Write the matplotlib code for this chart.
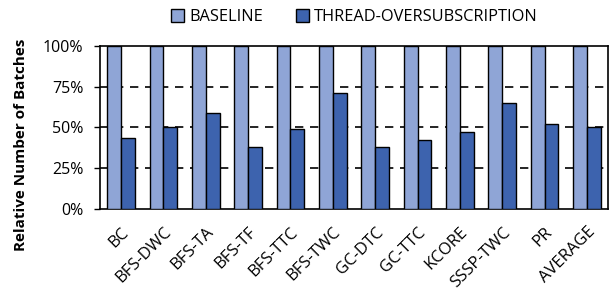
import numpy as np
import matplotlib.pyplot as plt
from matplotlib.ticker import PercentFormatter

plt.rcParams['font.family'] = ['Open Sans', 'DejaVu Sans']

categories = ["BC", "BFS-DWC", "BFS-TA", "BFS-TF", "BFS-TTC", "BFS-TWC",
              "GC-DTC", "GC-TTC", "KCORE", "SSSP-TWC", "PR", "AVERAGE"]
baseline = [100, 100, 100, 100, 100, 100, 100, 100, 100, 100, 100, 100]
oversub = [43.5, 50, 59, 38, 49, 71, 38, 42.5, 47.5, 65, 52, 50]

fig = plt.figure(figsize=(6.13, 2.89), dpi=100)
ax = fig.add_axes([0.163, 0.277, 0.829, 0.564])

x = np.arange(len(categories))
w = 0.325
ax.bar(x - w / 2, baseline, w, color='#8FA5D6', edgecolor='black', linewidth=1,
       label='BASELINE', zorder=3)
ax.bar(x + w / 2, oversub, w, color='#3D63AE', edgecolor='black', linewidth=1,
       label='THREAD-OVERSUBSCRIPTION', zorder=3)

ax.set_xlim(-0.5, len(categories) - 0.5)
ax.set_ylim(0, 100)
ax.set_yticks([0, 25, 50, 75, 100])
ax.yaxis.set_major_formatter(PercentFormatter(decimals=0))
for yv in [25, 50, 75]:
    ax.axhline(yv, color='black', linestyle=(0, (5, 4)), linewidth=1.2, zorder=1)

ax.set_xticks(x)
ax.set_xticklabels(categories, rotation=45, ha='right', rotation_mode='anchor',
                   fontsize=12)
ax.tick_params(axis='x', length=0, pad=11)
ax.tick_params(axis='y', labelsize=11.5, length=4, width=1, direction='out', pad=8)
for s in ax.spines.values():
    s.set_linewidth(1.2)

ax.set_ylabel('Relative Number of Batches', fontsize=11, fontweight='bold')
ax.yaxis.set_label_coords(-0.142, 0.393)

fig.legend(loc='upper center', bbox_to_anchor=(0.578, 1.02), ncol=2, frameon=False,
           fontsize=11.8, handlelength=0.8, handleheight=0.8, handletextpad=0.3,
           columnspacing=2.0)

fig.savefig('out.png', dpi=100)
